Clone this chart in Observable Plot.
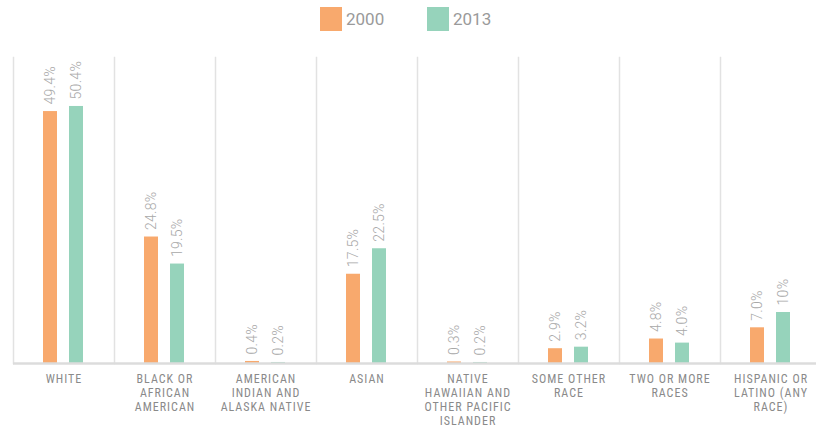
<!DOCTYPE html>
<html>
<head>
<meta charset="utf-8">
<script src="https://cdn.jsdelivr.net/npm/d3@7"></script>
<script src="https://cdn.jsdelivr.net/npm/@observablehq/plot@0.6"></script>
<style>
  html, body { margin: 0; padding: 0; background: #fff; overflow: hidden; }
  #legend { position: relative; height: 40px; font-family: Roboto, "Noto Sans", sans-serif; }
  .item { position: absolute; top: 7px; display: flex; align-items: center; }
  .sw { width: 22px; height: 24px; margin-right: 4px; }
  .lb { font-size: 17px; color: #9a9a9a; line-height: 24px; }
  #chart svg { display: block; }
</style>
</head>
<body>
<div id="legend"></div>
<div id="chart"></div>
<script>
const categories = [
  "White",
  "Black or African American",
  "American Indian and Alaska Native",
  "Asian",
  "Native Hawaiian and Other Pacific Islander",
  "Some Other Race",
  "Two or More Races",
  "Hispanic or Latino (any race)"
];
const tickLabels = [
  "WHITE",
  "BLACK OR\nAFRICAN\nAMERICAN",
  "AMERICAN\nINDIAN AND\nALASKA NATIVE",
  "ASIAN",
  "NATIVE\nHAWAIIAN AND\nOTHER PACIFIC\nISLANDER",
  "SOME OTHER\nRACE",
  "TWO OR MORE\nRACES",
  "HISPANIC OR\nLATINO (ANY\nRACE)"
];
const years = ["2000", "2013"];
const values2000 = [49.4, 24.8, 0.4, 17.5, 0.3, 2.9, 4.8, 7.0];
const values2013 = [50.4, 19.5, 0.2, 22.5, 0.2, 3.2, 4.0, 10];
const labels2000 = ["49.4%", "24.8%", "0.4%", "17.5%", "0.3%", "2.9%", "4.8%", "7.0%"];
const labels2013 = ["50.4%", "19.5%", "0.2%", "22.5%", "0.2%", "3.2%", "4.0%", "10%"];
const colors = ["#F8A96D", "#96D3BB"];

const data = [];
categories.forEach((c, i) => {
  data.push({cat: c, year: years[0], value: values2000[i], label: labels2000[i]});
  data.push({cat: c, year: years[1], value: values2013[i], label: labels2013[i]});
});

// legend
const legend = document.getElementById("legend");
const lefts = [320, 427];
years.forEach((y, i) => {
  const it = document.createElement("div");
  it.className = "item";
  it.style.left = lefts[i] + "px";
  it.innerHTML = `<div class="sw" style="background:${colors[i]}"></div><div class="lb">${y}</div>`;
  legend.appendChild(it);
});

const labelMap = new Map(categories.map((c, i) => [c, tickLabels[i]]));

const chart = Plot.plot({
  width: 816,
  height: 387,
  marginLeft: 12,
  marginRight: -6,
  marginTop: 17,
  marginBottom: 64,
  fx: {domain: categories, padding: 0, label: null},
  x: {domain: years, paddingInner: 0.46, paddingOuter: 1.17, axis: null},
  y: {domain: [0, 60], axis: null},
  color: {domain: years, range: colors},
  style: {fontFamily: "Roboto, 'Noto Sans', sans-serif", background: "#fff"},
  marks: [
    Plot.frame({anchor: "left", stroke: "#e2e2e2", strokeWidth: 1.5}),
    Plot.barY(data, {fx: "cat", x: "year", y: "value", fill: "year"}),
    Plot.ruleY([0], {stroke: "#dcdcdc", strokeWidth: 2.5}),
    Plot.text(data, {
      fx: "cat", x: "year", y: "value", text: "label",
      rotate: -90, textAnchor: "start", dy: -7,
      fill: "#a8a8a8", fontSize: 14, fontWeight: 300,
      className: "vlabel"
    }),
    Plot.axisFx({
      anchor: "bottom", tickSize: 0, tickPadding: 10, label: null,
      tickFormat: d => labelMap.get(d),
      lineHeight: 1.15,
      fontSize: 12,
      fontFamily: "'Roboto Condensed', 'Liberation Sans Narrow', 'DejaVu Sans Condensed', sans-serif",
      fill: "#8a8a8a"
    })
  ]
});
chart.querySelectorAll("[aria-label='text'] text").forEach(t => {
  t.style.fontSize = "14px";
  t.style.fontWeight = "300";
  t.style.letterSpacing = "0.3px";
});
chart.querySelectorAll("[aria-label='fx-axis tick label'] text").forEach(t => {
  t.style.letterSpacing = "1px";
});
document.getElementById("chart").appendChild(chart);
</script>
</body>
</html>
